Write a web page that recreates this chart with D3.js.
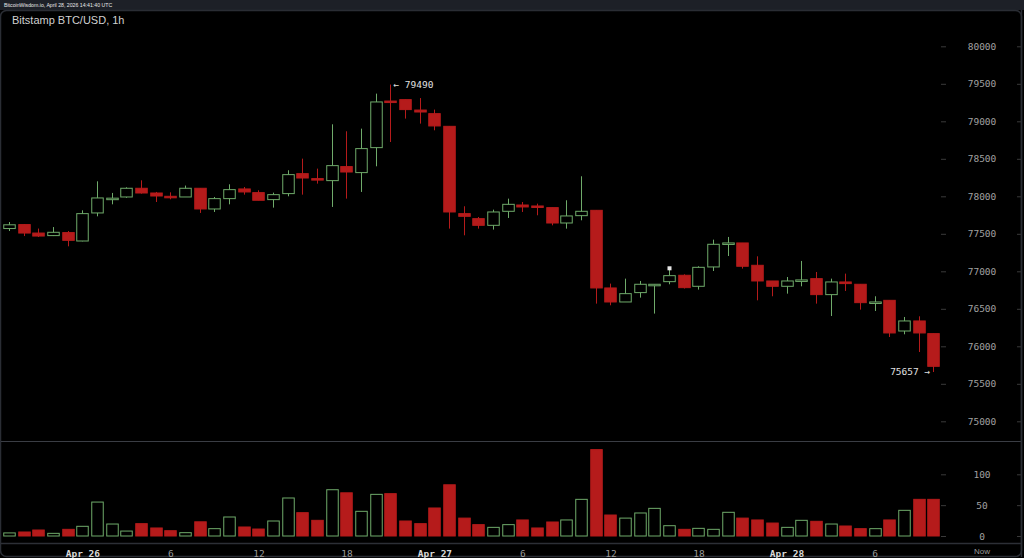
<!DOCTYPE html>
<html><head><meta charset="utf-8">
<script src="https://cdn.jsdelivr.net/npm/d3@7/dist/d3.min.js"></script>
<style>
html,body{margin:0;padding:0;background:#000;}
svg{display:block;}
</style></head><body>
<script>
// ---- data (hour offset relative to Apr 26 00:00 UTC) ----
const hours = d3.range(-5, 59);
const opens  = [77570,77623,77510,77476,77516,77404,77778,77970,77991,78107,78044,78000,77991,78107,77831,77969,78098,78049,77956,78036,78302,78236,78209,78396,78316,78649,79270,79289,79150,79102,78933,77769,77702,77613,77800,77884,77871,77849,77644,77742,77813,76778,76591,76716,76822,76862,76947,76800,77058,77373,77378,77080,76871,76800,76880,76902,76689,76858,76827,76582,76613,76204,76338,76169];
const highs  = [77657,77630,77570,77590,77537,77813,78200,78045,78120,78213,78058,78053,78143,78107,77991,78160,78124,78080,78049,78347,78502,78369,78960,78867,78902,79369,79490,79290,79310,79156,78933,77867,77724,77822,77969,77924,77902,77849,77947,78267,77813,76836,76902,76871,76830,77058,76960,77067,77422,77458,77378,77200,76871,76924,77138,76991,76902,76969,76827,76667,76613,76391,76400,76169];
const lows   = [77537,77470,77457,77470,77333,77400,77733,77893,77980,78036,77924,77960,77991,77778,77791,77893,78022,77947,77849,78000,78022,78169,77858,77969,78058,78400,78724,79036,78969,78880,77569,77480,77569,77556,77711,77791,77747,77613,77569,77680,76569,76547,76591,76649,76436,76827,76770,76756,77004,77204,77036,76613,76667,76702,76800,76569,76404,76738,76489,76471,76124,76160,75924,75657];
const closes = [77620,77510,77470,77520,77413,77769,77978,77975,78107,78044,78004,77995,78107,77831,77969,78089,78058,77947,78022,78289,78244,78218,78409,78324,78636,79258,79260,79156,79124,78938,77791,77733,77613,77791,77893,77858,77858,77644,77738,77800,76778,76591,76702,76827,76827,76942,76782,77053,77360,77378,77067,76871,76800,76871,76885,76689,76858,76836,76582,76591,76178,76338,76178,75733];
const volumes = [5,6.5,9.7,4.3,10.8,15.7,55,19.4,8,20,13,8.6,5.4,23,11.9,30.8,14.6,11.3,24.3,61.6,37.8,25.4,75,70,40,67.5,68.6,24.3,20,45.4,83,29,18.4,14,18.4,26,13,22.7,26,59.4,140,34,29,37.3,44.8,16.7,10.8,12.4,10.8,38.4,29,26,21,14,25.4,23.8,19.4,16.2,11.9,11.9,26,41.6,59.4,59.4];
const priceTicks = [75000,75500,76000,76500,77000,77500,78000,78500,79000,79500,80000];
const volumeTicks = [0,50,100];
const timeTickHours  = [0,6,12,18,24,30,36,42,48,54];
const timeTickLabels = ["Apr 26","6","12","18","Apr 27","6","12","18","Apr 28","6"];
const dayLabels = ["Apr 26","Apr 27","Apr 28"];
const title = "Bitstamp BTC/USD, 1h";
const header = "BitcoinWisdom.io, April 28, 2026 14:41:40 UTC";
const highMark = {hour:21, value:79490};
const lowMark = {hour:58, value:75657};
const flagMark = {hour:40, value:77040};

const W = 1024, H = 558;
const GREEN = "#6faa6a", RED = "#b51b1b";
const svg = d3.select("body").append("svg").attr("width", W).attr("height", H);

// background & frames
svg.append("rect").attr("width", W).attr("height", H).attr("fill", "#000");
svg.append("rect").attr("x",0).attr("y",0).attr("width",W).attr("height",10).attr("fill","#1d2027");
svg.append("text").attr("x",4).attr("y",7).attr("fill","#e8e8e8")
  .attr("font-family","Liberation Sans, Arial, sans-serif").attr("font-size",5.2).text(header);
svg.append("rect").attr("x",0.5).attr("y",10.5).attr("width",1021).attr("height",546)
  .attr("rx",6).attr("fill","#000").attr("stroke","#2a2d34").attr("stroke-width",1.5);

// separators
svg.append("line").attr("x1",1).attr("x2",1021).attr("y1",441.5).attr("y2",441.5).attr("stroke","#3a3d44").attr("stroke-width",1.2);
svg.append("line").attr("x1",1).attr("x2",1021).attr("y1",543.5).attr("y2",543.5).attr("stroke","#2c2f36").attr("stroke-width",1.5);

// scales
const x = d3.scaleLinear().domain([-5, 58]).range([9, 933.2]);
const y = d3.scaleLinear().domain([75000, 80000]).range([421.3, 46.3]);
const yv = d3.scaleLinear().domain([0, 100]).range([536, 474.3]);
const bw = 11.5;

// title
svg.append("text").attr("x",12).attr("y",24).attr("fill","#d0d0d0")
  .attr("font-family","Liberation Sans, Arial, sans-serif").attr("font-size",11).text(title);

const data = hours.map((h,i)=>({h, o:opens[i], hi:highs[i], lo:lows[i], c:closes[i], v:volumes[i]}));
const up = d => d.c >= d.o;

// candles
const cg = svg.append("g");
cg.selectAll("line.wick").data(data).join("line")
  .attr("x1", d=>Math.round(x(d.h))+0.5).attr("x2", d=>Math.round(x(d.h))+0.5)
  .attr("y1", d=>y(d.hi)).attr("y2", d=>y(d.lo))
  .attr("stroke", d=>up(d)?GREEN:RED).attr("stroke-width",1);
cg.selectAll("rect.body").data(data).join("rect")
  .attr("x", d=>Math.round(x(d.h)) - bw/2 + 0.5)
  .attr("y", d=>Math.min(y(d.o), y(d.c)))
  .attr("width", bw)
  .attr("height", d=>Math.max(1.5, Math.abs(y(d.o)-y(d.c))))
  .attr("fill", d=>up(d)?"#000":RED)
  .attr("stroke", d=>up(d)?GREEN:RED).attr("stroke-width",1);

// small white marker
svg.append("rect").attr("x", Math.round(x(flagMark.hour))-1.5).attr("y", y(flagMark.value)-2).attr("width",4).attr("height",4).attr("fill","#e6e6e6");

// volume bars
svg.append("g").selectAll("rect").data(data).join("rect")
  .attr("x", d=>Math.round(x(d.h)) - bw/2 + 0.5)
  .attr("y", d=>yv(d.v))
  .attr("width", bw)
  .attr("height", d=>yv(0)-yv(d.v))
  .attr("fill", d=>up(d)?"#000":RED)
  .attr("stroke", d=>up(d)?GREEN:RED).attr("stroke-width",1);

const mono = "DejaVu Sans Mono, monospace";

// price axis
const pAxis = d3.axisRight(y).tickValues(priceTicks).tickSize(5).tickFormat(d=>String(d));
const pg = svg.append("g").attr("transform","translate(941,0)").call(pAxis);
pg.select(".domain").remove();
pg.selectAll(".tick line").attr("stroke","#3a3a3a");
pg.selectAll(".tick text").attr("x",41).attr("text-anchor","middle").attr("fill","#a0a0a0")
  .attr("font-family",mono).attr("font-size",9.5);
pg.selectAll(".tick").append("line").attr("x1",76).attr("x2",80).attr("stroke","#3a3a3a");

// volume axis
const vAxis = d3.axisRight(yv).tickValues(volumeTicks).tickSize(5).tickFormat(d=>String(d));
const vg = svg.append("g").attr("transform","translate(941,0)").call(vAxis);
vg.select(".domain").remove();
vg.selectAll(".tick line").attr("stroke","#3a3a3a");
vg.selectAll(".tick text").attr("x",41).attr("text-anchor","middle").attr("fill","#a0a0a0")
  .attr("font-family",mono).attr("font-size",9.5);
vg.selectAll(".tick").append("line").attr("x1",76).attr("x2",80).attr("stroke","#3a3a3a");

// right vertical separator
svg.append("line").attr("x1",1021.5).attr("x2",1021.5).attr("y1",10).attr("y2",557).attr("stroke","#2a2d34").attr("stroke-width",1.5);

// time axis
const tAxis = d3.axisBottom(x).tickValues(timeTickHours).tickSize(0)
  .tickFormat((d,i)=>timeTickLabels[i]);
const tg = svg.append("g").attr("transform","translate(0,543)").call(tAxis);
tg.select(".domain").remove();
tg.selectAll(".tick text").attr("y",7).attr("dy","0.71em").attr("fill",(d,i)=>dayLabels.includes(timeTickLabels[i])?"#d8d8d8":"#9a9a9a")
  .attr("font-weight",(d,i)=>dayLabels.includes(timeTickLabels[i])?"bold":"normal")
  .attr("font-family",mono).attr("font-size",9.5);
svg.append("text").attr("x",982).attr("y",553.5).attr("text-anchor","middle").attr("fill","#9a9a9a")
  .attr("font-family","Liberation Sans, Arial, sans-serif").attr("font-size",8).text("Now");

// high/low labels
svg.append("text").attr("x", x(highMark.hour)+3).attr("y", y(highMark.value)+3.5).attr("fill","#e0e0e0")
  .attr("font-family",mono).attr("font-size",9.5).text("← " + highMark.value);
svg.append("text").attr("x", x(lowMark.hour)-3).attr("y", y(lowMark.value)+3).attr("text-anchor","end").attr("fill","#e0e0e0")
  .attr("font-family",mono).attr("font-size",9.5).text(lowMark.value + " →");
</script>
</body></html>
